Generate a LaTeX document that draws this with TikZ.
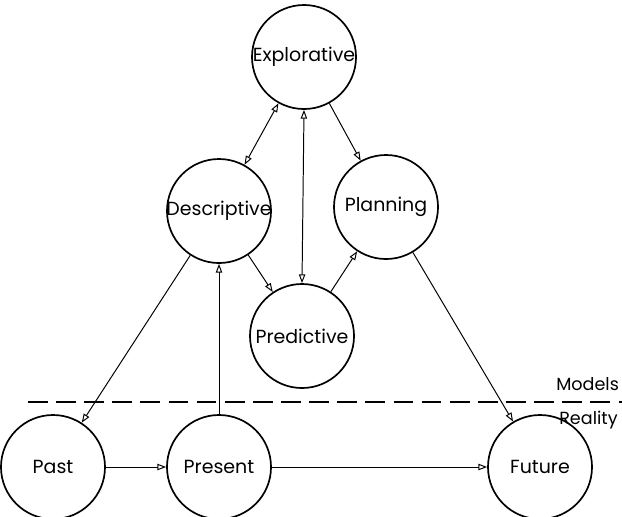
\documentclass[tikz,border=0pt]{standalone}
\usepackage{fontspec}
\setmainfont{Poppins}
\usetikzlibrary{positioning,arrows.meta}

\begin{document}
\begin{tikzpicture}[x=0.025cm, y=-0.025cm, font=\fontsize{13.5}{16}\selectfont,
      m/.style={draw, circle, minimum size=2.6cm, inner sep=-3pt, line width=1.2pt},
      lbl/.style={anchor=west, inner sep=0pt, font=\fontsize{12.5}{15}\selectfont},
      f/.style={-{Triangle[open, length=2.2mm, width=1.6mm]}, line width=0.7pt},
      ff/.style={{Triangle[open, length=2.2mm, width=1.6mm]}-{Triangle[open, length=2.2mm, width=1.6mm]}, line width=0.7pt}]

    \useasboundingbox (0,0) rectangle (622,516);

    % --- Modelos ----------------------------------------------------------
    \node[m] (exp) at (304,57)  {Explorative};
    \node[m] (des) at (219,211) {Descriptive};
    \node[m] (pla) at (386,207) {Planning};
    \node[m] (pre) at (302,336) {Predictive};

    % --- Realidad ---------------------------------------------------------
    \node[m] (pas) at (53,467)  {Past};
    \node[m] (prs) at (219,467) {Present};
    \node[m] (fut) at (540,467) {Future};

    \draw[dashed, dash pattern=on 14pt off 6pt, line width=0.8pt] (28,402) -- (622,402);
    \node[lbl] (mod) at (556,384) {Models};
    \node[lbl] (rea) at (559,420) {Reality};

    % --- Flechas ----------------------------------------------------------
    \draw[ff] (des) -- (exp);
    \draw[ff] (exp.south) -- (pre.north);
    \foreach \x/\y in {exp/pla,des/pre,pre/pla,des/pas,pla/fut,pas/prs,prs/fut}
      \draw[f] (\x)--(\y);
    \draw[f] (prs.north) -- (des.south);
\end{tikzpicture}
\end{document}
